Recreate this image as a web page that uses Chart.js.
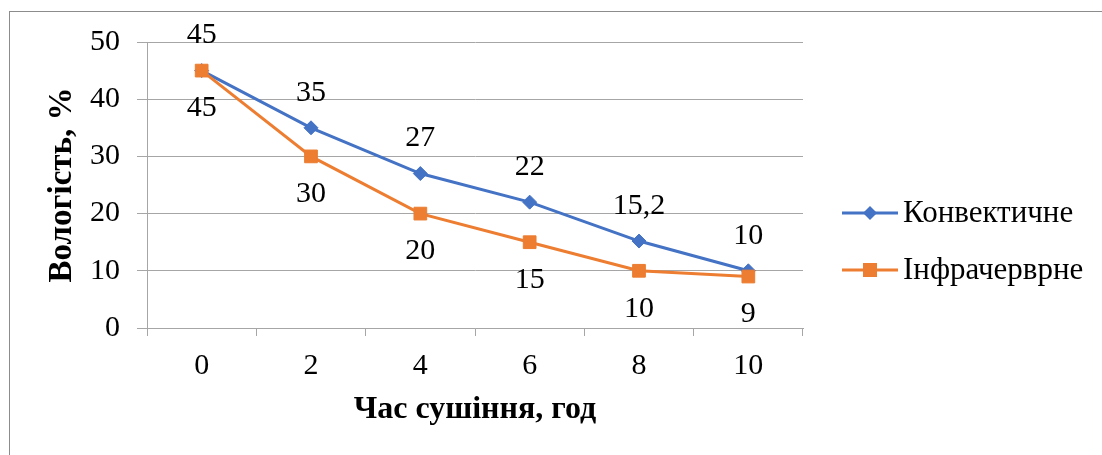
<!DOCTYPE html>
<html>
<head>
<meta charset="utf-8">
<script src="https://cdn.jsdelivr.net/npm/chart.js@4/dist/chart.umd.min.js"></script>
<style>
  html, body { margin: 0; padding: 0; background: #fff; overflow: hidden; }
  #wrap { position: relative; width: 1102px; height: 455px; }
  #frame { position: absolute; left: 9px; top: 11px; right: -5px; bottom: -5px;
           border-left: 1px solid #8c8c8c; border-top: 1px solid #8c8c8c; }
  canvas { position: absolute; left: 0; top: 0; }
</style>
</head>
<body>
<div id="wrap">
  <div id="frame"></div>
  <canvas id="chart" width="1102" height="455"></canvas>
</div>
<script>
const hours = ["0", "2", "4", "6", "8", "10"]
const convective = [45, 35, 27, 22, 15.2, 10]
const infrared = [45, 30, 20, 15, 10, 9]
const yTicks = [0, 10, 20, 30, 40, 50]

const serif = "'Liberation Serif', 'Times New Roman', serif"
const blue = "#4472C4"
const orange = "#ED7D31"
const gridColor = "#a6a6a6"

// labels above the blue points, below the orange ones
const pointLabels = {
  id: "pointLabels",
  afterDatasetsDraw(chart) {
    const ctx = chart.ctx
    ctx.save()
    ctx.font = "30px " + serif
    ctx.fillStyle = "#000"
    ctx.textAlign = "center"
    ctx.textBaseline = "middle"
    chart.data.datasets.forEach((ds, i) => {
      const meta = chart.getDatasetMeta(i)
      meta.data.forEach((pt, j) => {
        const txt = String(ds.data[j]).replace(".", ",")
        ctx.fillText(txt, pt.x, pt.y + ds.labelShift)
      })
    })
    ctx.restore()
  }
}

// excel-like legend: line with marker in the middle
const sideLegend = {
  id: "sideLegend",
  afterDraw(chart) {
    const ctx = chart.ctx
    const x0 = 842, x1 = 898
    ctx.save()
    chart.data.datasets.forEach((ds, i) => {
      const y = 213 + i * 57
      ctx.strokeStyle = ds.borderColor
      ctx.lineWidth = 3
      ctx.beginPath()
      ctx.moveTo(x0, y)
      ctx.lineTo(x1, y)
      ctx.stroke()
      ctx.fillStyle = ds.borderColor
      const cx = (x0 + x1) / 2
      ctx.beginPath()
      if (ds.pointStyle === "rectRot") {
        ctx.moveTo(cx - 7, y); ctx.lineTo(cx, y - 7)
        ctx.lineTo(cx + 7, y); ctx.lineTo(cx, y + 7)
      } else {
        ctx.rect(cx - 7, y - 7, 14, 14)
      }
      ctx.closePath()
      ctx.fill()
      ctx.fillStyle = "#000"
      ctx.font = "31px " + serif
      ctx.textAlign = "left"
      ctx.textBaseline = "middle"
      ctx.fillText(ds.label, 903, y + 1)
    })
    ctx.restore()
  }
}

new Chart(document.getElementById("chart"), {
  type: "line",
  data: {
    labels: hours,
    datasets: [{
      label: "Конвектичне",
      data: convective,
      borderColor: blue,
      backgroundColor: blue,
      borderWidth: 3,
      pointStyle: "rectRot",
      pointRadius: 7,
      pointBorderWidth: 1,
      labelShift: -35,
      order: 2
    }, {
      label: "Інфрачерврне",
      data: infrared,
      borderColor: orange,
      backgroundColor: orange,
      borderWidth: 3,
      pointStyle: "rect",
      pointRadius: 9,
      pointBorderWidth: 1,
      labelShift: 38,
      order: 1
    }]
  },
  options: {
    responsive: false,
    animation: false,
    layout: { padding: { left: 30, top: 42, right: 299, bottom: 26 } },
    plugins: { legend: { display: false }, tooltip: { enabled: false } },
    scales: {
      x: {
        offset: true,
        grid: { offset: true, drawOnChartArea: false, color: gridColor, tickLength: 8 },
        border: { color: gridColor },
        ticks: { color: "#000", font: { family: serif, size: 30 }, padding: 12, maxRotation: 0 },
        title: { display: true, text: "Час сушіння, год", color: "#000",
                 font: { family: serif, size: 32, weight: "bold" }, padding: 0 },
        afterFit(scale) { scale.height = 101 }
      },
      y: {
        min: 0,
        max: 50,
        afterBuildTicks(scale) { scale.ticks = yTicks.map(v => ({ value: v })) },
        grid: { color: gridColor, tickLength: 10 },
        border: { color: gridColor },
        ticks: { color: "#000", font: { family: serif, size: 30 }, padding: 17 },
        title: { display: true, text: "Вологість, %", color: "#000",
                 font: { family: serif, size: 33, weight: "bold" }, padding: { top: 13, bottom: 0 } },
        afterFit(scale) { scale.width = 117 }
      }
    }
  },
  plugins: [pointLabels, sideLegend]
})
</script>
</body>
</html>
